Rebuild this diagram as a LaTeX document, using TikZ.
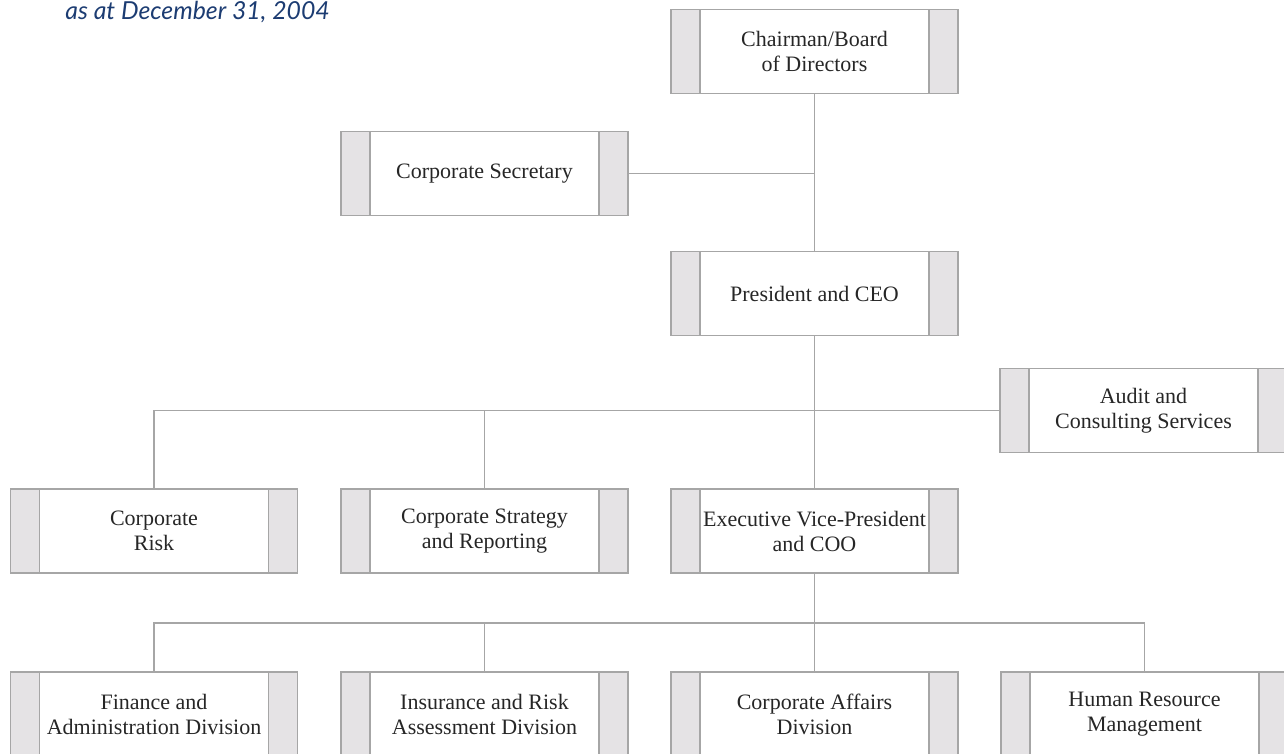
\documentclass[tikz,border=0pt]{standalone}
\usepackage{fontspec}
\setmainfont{Liberation Serif}
\newfontfamily\datefont{Lato}
\colorlet{rim}{black!35}
\definecolor{panel}{HTML}{E5E3E5}
\definecolor{ink}{HTML}{1C3C72}
\tikzset{
  unit/.style = {
    draw=rim, line width=0.8pt,
    minimum width=143.5pt, minimum height=42pt,
    align=center, text=black!85,
    font=\fontsize{11}{12.5}\selectfont,
    path picture={
      \fill[panel] (path picture bounding box.north west) rectangle ([xshift=14.5pt]path picture bounding box.south west);
      \fill[panel] (path picture bounding box.north east) rectangle ([xshift=-14.5pt]path picture bounding box.south east);
      \draw[rim, line width=0.8pt] ([xshift=14.5pt]path picture bounding box.north west) -- ([xshift=14.5pt]path picture bounding box.south west);
      \draw[rim, line width=0.8pt] ([xshift=-14.5pt]path picture bounding box.north east) -- ([xshift=-14.5pt]path picture bounding box.south east);
    }
  },
  link/.style = {draw=rim, line width=0.8pt},
  datemark/.style = {ink, inner sep=0pt, font=\datefont\itshape\fontsize{12.4}{15}\selectfont}
}

\begin{document}
\begin{tikzpicture}[x=0.5pt,y=-0.5pt]
  \useasboundingbox (0,0) rectangle (1284,754);
  \node[datemark, anchor=base west] (asat) at (65,20) {as at December 31, 2004};
  % top of the chart
  \node[unit] (chair) at (814.5,51.5) {Chairman/Board\\of Directors};
  \node[unit] (secr)  at (484.5,173.5) {Corporate Secretary};
  \node[unit] (ceo)   at (814.5,293.5) {President and CEO};
  \node[unit] (audit) at (1143.5,410.5) {Audit and\\Consulting Services};
  \draw[link] (chair) -- (ceo);
  \draw[link] (secr) -- (secr -| chair);
  %
  \node[unit] (risk)  at (154,531) {Corporate\\Risk};
  \node[unit] (strat) at (484.5,531) {Corporate Strategy\\and Reporting};
  \node[unit] (evp)   at (814.5,531) {Executive Vice-President\\and COO};
  \draw[link] (ceo) -- (evp);
  \draw[link] (risk) |- (audit);
  \draw[link] (strat) -- (strat |- audit);
  %
  \node[unit] (fin) at (154,714) {Finance and\\Administration Division};
  \node[unit] (ins) at (484.5,714) {Insurance and Risk\\Assessment Division};
  \node[unit] (aff) at (814.5,714) {Corporate Affairs\\Division};
  \node[unit] (hrm) at (1144.5,714) {Human Resource\\Management};
  \coordinate (bus) at (0,623);
  \draw[link] (evp) -- (evp |- bus);
  \draw[link] (fin) |- (hrm.north |- bus) -- (hrm);
  \draw[link] (ins) -- (ins |- bus);
  \draw[link] (aff) -- (aff |- bus);
\end{tikzpicture}
\end{document}
